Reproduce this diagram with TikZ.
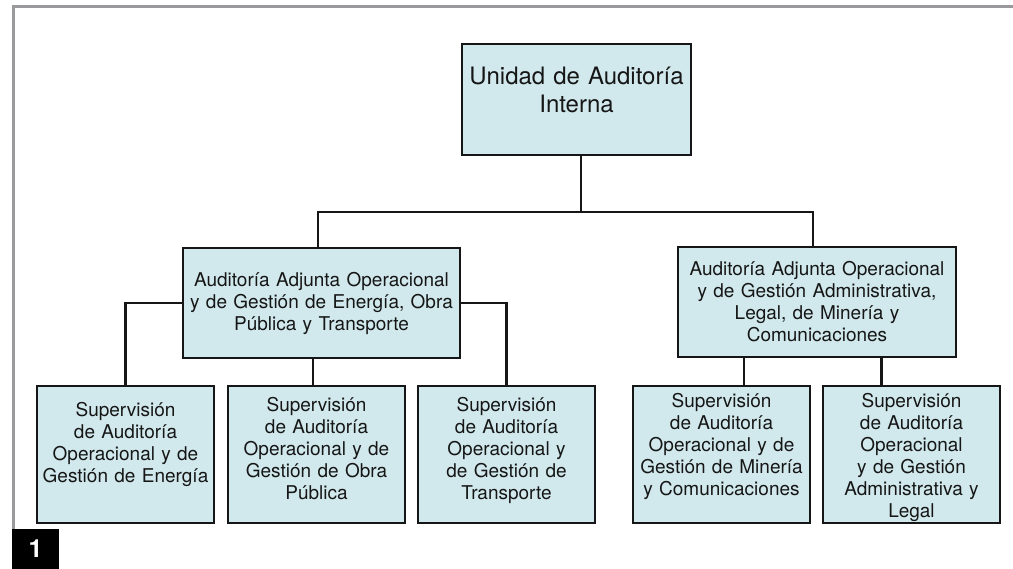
\documentclass[tikz,border=0pt]{standalone}
\usepackage{fontspec}
\setmainfont{TeX Gyre Heros}
\usepackage{tikz}
\usetikzlibrary{positioning}
\usepackage{xcolor}
\definecolor{cajafondo}{RGB}{209,233,237}
\definecolor{marco}{RGB}{154,154,156}
\definecolor{tinta}{RGB}{22,22,22}

\begin{document}
\begin{tikzpicture}[x=1bp,y=-1bp,
    caja/.style={draw=tinta,fill=cajafondo,line width=2.2bp,outer sep=0pt,align=center,text=tinta,inner xsep=3bp},
    cajasup/.style={caja,minimum width=177bp,inner ysep=0pt,text width=171bp,font=\fontsize{19bp}{22bp}\selectfont},
    cajaadj/.style={caja,minimum height=110bp,text width=270bp,font=\fontsize{19bp}{22bp}\selectfont},
    conn/.style={draw=tinta,line width=2.2bp},
    node distance=13bp]
    \useasboundingbox (0,0) rectangle (1013,569);

    \node[caja,anchor=north,minimum width=229bp,inner ysep=0pt,text width=222bp,text height=41bp,text depth=70bp,font=\fontsize{24bp}{28bp}\selectfont] (uai) at (576.5,44) {Unidad de Auditoría\\Interna};
    \node[cajaadj,minimum width=277bp] (adjL) at (321.5,303) {Auditoría Adjunta Operacional\\y de Gestión de Energía, Obra\\Pública y Transporte};
    \node[cajaadj,minimum width=278bp] (adjR) at (817,302) {Auditoría Adjunta Operacional\\y de Gestión Administrativa,\\Legal, de Minería y\\Comunicaciones};

    \node[cajasup,anchor=north west,text height=30.5bp,text depth=106.5bp] (s1) at (37,386) {Supervisión\\de Auditoría\\Operacional y de\\Gestión de Energía};
    \node[cajasup,text height=25.5bp,text depth=111.5bp] (s2) [right=14bp of s1] {Supervisión\\de Auditoría\\Operacional y de\\Gestión de Obra\\Pública};
    \node[cajasup,text height=25.5bp,text depth=111.5bp] (s3) [right=of s2] {Supervisión\\de Auditoría\\Operacional y\\de Gestión de\\Transporte};
    \node[cajasup,text height=21bp,text depth=116bp] (s4) [right=38bp of s3] {Supervisión\\de Auditoría\\Operacional y de\\Gestión de Minería\\y Comunicaciones};
    \node[cajasup,text height=21bp,text depth=116bp] (s5) [right=of s4] {Supervisión\\de Auditoría\\Operacional\\y de Gestión\\Administrativa y\\Legal};

    % lineas de dependencia
    \draw[conn] ([xshift=4.5bp]uai.south) -- ++(0,57);
    \draw[conn] ([xshift=-3.5bp]adjL.north) -- ++(0,-36) -| ([xshift=-4bp]adjR.north);
    \draw[conn] (adjL.west) -| (s1.north);
    \draw[conn] (adjL.east) -| (s3.north);
    \draw[conn] ([xshift=-3.5bp]s2.north) -- ++(0,-28);
    \draw[conn] ([xshift=22.5bp]s4.north) -- ++(0,-29);
    \draw[conn] ([xshift=-30bp]s5.north) -- ++(0,-29);

    % marco y numero
    \node[fill=black,text=white,anchor=south west,minimum width=47bp,minimum height=40bp,inner sep=0pt,font=\fontsize{25bp}{25bp}\selectfont\bfseries] (badge) at (12,569) {1};
    \draw[draw=marco,line width=2.5bp] ([xshift=1.3bp]badge.north west) |- (1013,6.5);
\end{tikzpicture}
\end{document}
